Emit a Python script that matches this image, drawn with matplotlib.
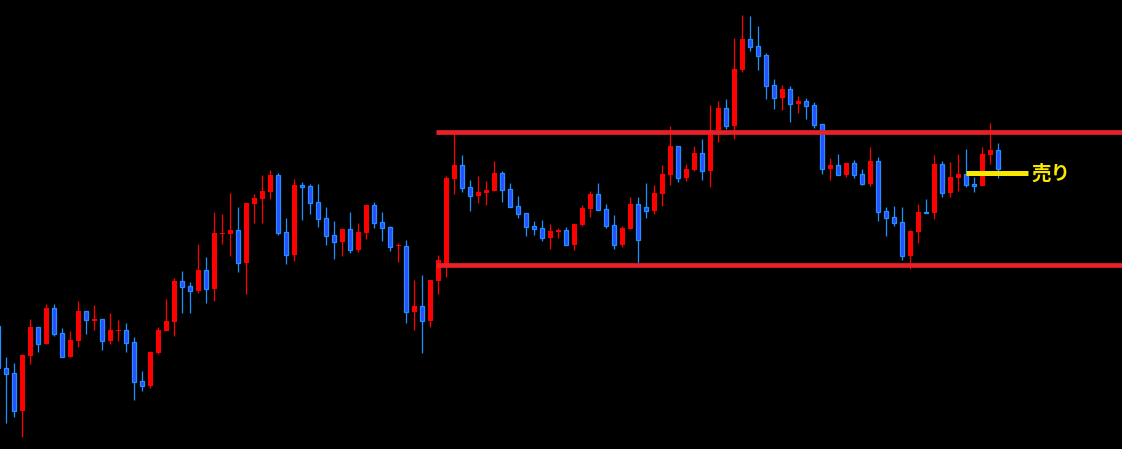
import numpy as np
import matplotlib
matplotlib.use("Agg")
import matplotlib.pyplot as plt

# candle data (arbitrary price units, oldest first; first candle is cut by the left edge)
opens = [123, 81, 76, 38, 93, 122, 105, 141, 116, 92, 108, 138, 128, 130, 108, 118, 119,
         107, 68, 63, 96, 118, 127, 168, 163, 158, 179, 160, 215, 215, 219, 186, 245, 250,
         257, 274, 217, 194, 264, 263, 247, 231, 214, 207, 220, 199, 216, 244, 227, 222,
         203, 203, 137, 143, 128, 168, 182, 270, 284, 262, 253, 256, 258, 276, 260, 243,
         236, 223, 221, 211, 217, 219, 204, 224, 240, 255, 240, 224, 204, 220, 245, 242,
         238, 255, 274, 303, 271, 279, 296, 278, 319, 341, 323, 379, 410, 403, 394, 364,
         351, 360, 345, 348, 344, 325, 280, 284, 274, 286, 275, 265, 288, 238, 232, 227,
         193, 217, 237, 236, 285, 256, 271, 275, 265, 263, 294, 299]
highs = [124, 92, 86, 95, 130, 122, 145, 145, 121, 118, 148, 138, 144, 130, 136, 129, 126,
         112, 78, 98, 122, 150, 171, 178, 167, 205, 192, 237, 235, 256, 242, 246, 255, 274,
         279, 276, 231, 270, 267, 265, 265, 242, 228, 220, 237, 226, 244, 247, 237, 223,
         206, 209, 169, 174, 169, 194, 273, 316, 294, 269, 273, 268, 288, 278, 266, 253,
         236, 228, 229, 225, 221, 222, 225, 244, 258, 266, 245, 234, 223, 252, 252, 266,
         264, 284, 323, 303, 285, 303, 310, 344, 348, 350, 411, 434, 433, 423, 396, 370,
         364, 363, 353, 351, 347, 325, 291, 295, 286, 289, 280, 302, 292, 242, 243, 242,
         219, 245, 250, 294, 288, 287, 295, 300, 272, 302, 326, 306]
lows = [79, 26, 32, 12, 85, 97, 105, 113, 92, 92, 102, 115, 119, 99, 105, 108, 97,
        49, 58, 61, 95, 118, 113, 136, 136, 156, 146, 148, 205, 193, 177, 155, 226, 226,
        250, 214, 185, 188, 229, 235, 222, 204, 190, 193, 196, 197, 210, 221, 208, 198,
        187, 126, 119, 96, 122, 155, 172, 255, 257, 238, 246, 244, 258, 247, 242, 231,
        213, 214, 208, 200, 211, 204, 199, 223, 232, 239, 221, 200, 202, 220, 186, 231,
        235, 243, 264, 267, 268, 278, 269, 262, 307, 320, 310, 377, 398, 379, 350, 340,
        339, 327, 336, 330, 321, 275, 269, 274, 272, 271, 264, 263, 228, 213, 223, 189,
        180, 206, 236, 230, 252, 252, 258, 262, 257, 263, 285, 271]
closes = [81, 75, 38, 94, 122, 105, 141, 115, 92, 109, 138, 129, 130, 108, 119, 119, 106,
          67, 63, 97, 119, 128, 168, 162, 158, 179, 160, 216, 216, 219, 186, 246, 251, 258,
          274, 216, 194, 264, 262, 246, 230, 213, 207, 220, 199, 217, 244, 226, 221, 202,
          204, 137, 143, 128, 169, 189, 271, 284, 261, 253, 257, 259, 276, 259, 242, 235,
          222, 220, 211, 218, 219, 204, 225, 241, 255, 239, 223, 204, 221, 245, 209, 238,
          256, 275, 303, 271, 280, 296, 278, 319, 341, 323, 380, 410, 402, 393, 363, 351,
          360, 345, 348, 343, 324, 280, 284, 274, 286, 274, 265, 288, 237, 231, 226, 193,
          218, 237, 236, 285, 256, 272, 275, 264, 263, 295, 299, 280]

resistance = 317.5
support = 183.7
sell_level = 276.5
sell_label = "売り"

o = np.array(opens, float)
h = np.array(highs, float)
l = np.array(lows, float)
c = np.array(closes, float)
x = np.arange(len(o)) - 1

up = c >= o
dn = ~up
bottom = np.minimum(o, c)
height = np.maximum(np.abs(c - o), 1.3)

RED = "#ff0000"
BLUE_EDGE = "#1e90ff"
BLUE_FILL = "#2a4dff"
YELLOW = "#f8e800"

fig = plt.figure(figsize=(11.22, 4.49), dpi=100, facecolor="black")
ax = fig.add_axes([0, 0, 1, 1])
ax.set_facecolor("black")

# wicks
ax.vlines(x[up], l[up], h[up], colors=RED, lw=0.9, zorder=2)
ax.vlines(x[dn], l[dn], h[dn], colors=BLUE_EDGE, lw=0.9, zorder=2)
# bodies
ax.bar(x[up], height[up], bottom=bottom[up], width=0.58, color=RED, lw=0, zorder=3)
ax.bar(x[dn], height[dn], bottom=bottom[dn], width=0.48, color=BLUE_FILL,
       edgecolor=BLUE_EDGE, lw=0.9, zorder=3)

# range lines
ax.hlines([resistance, support], 53.7, 200, colors="#e8202a", lw=3.4, zorder=4)

# sell marker
ax.hlines(sell_level, 119.9, 127.7, colors=YELLOW, lw=3.6, zorder=5)
ax.text(128.2, sell_level - 1.5, sell_label, color=YELLOW, fontsize=14, fontweight="bold",
        family=["Noto Sans CJK JP", "DejaVu Sans"], ha="left", va="center", zorder=6)

ax.set_xlim(-0.7875, 139.46)
ax.set_ylim(0, 449)
ax.axis("off")

fig.savefig("out.png", dpi=100, facecolor="black")
